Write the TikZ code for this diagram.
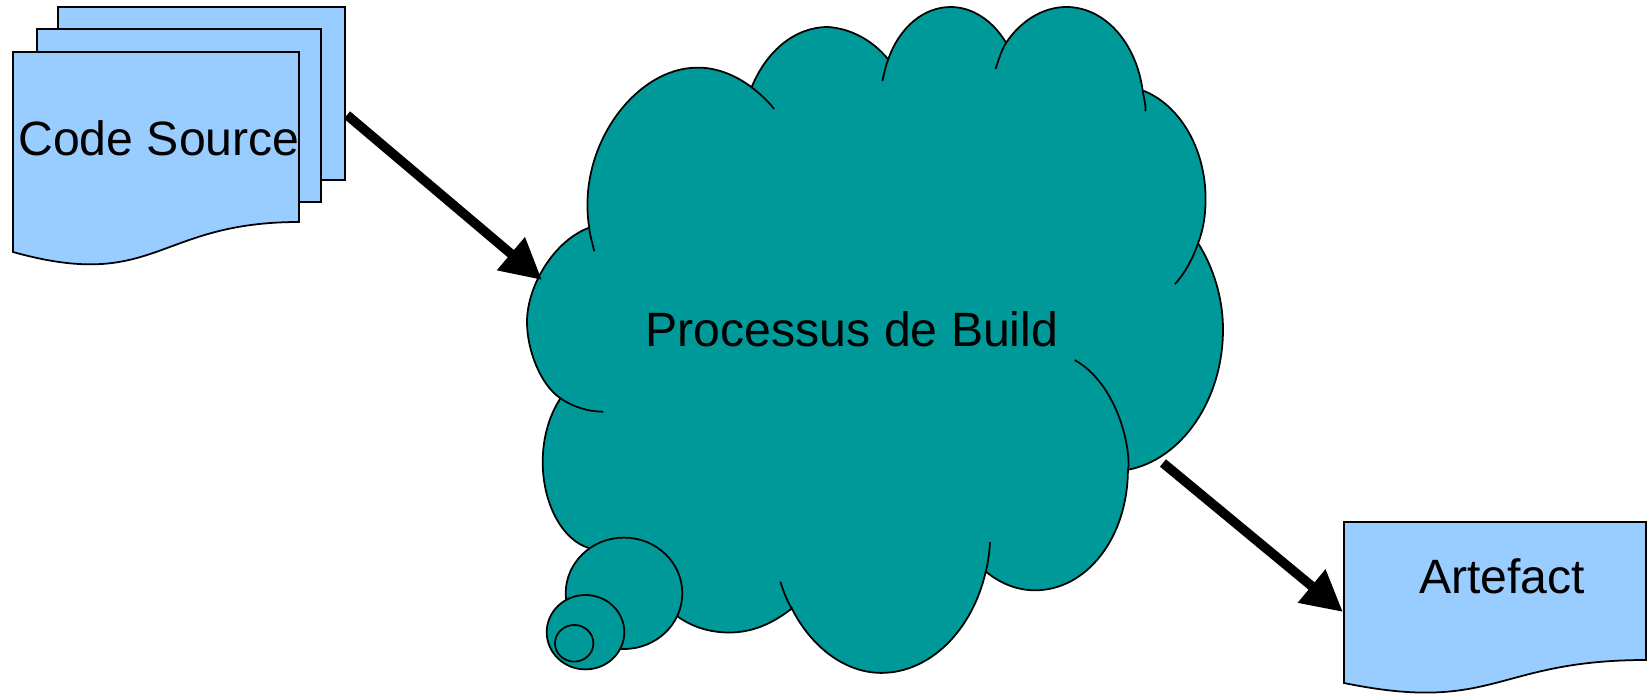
\documentclass[tikz,border=0pt]{standalone}
\usepackage{fontspec}
\setmainfont{Liberation Sans}
\usepackage{xcolor}
\definecolor{cloudteal}{RGB}{0,153,153}
\definecolor{pageblue}{RGB}{153,204,255}
\usetikzlibrary{arrows.meta}

\begin{document}
\begin{tikzpicture}[x=0.01cm,y=-0.01cm,
  page/.style={fill=pageblue,draw=black,line width=0.5pt},
  cloud/.style={fill=cloudteal,draw=black,line width=0.5pt},
  hook/.style={draw=black,line width=0.5pt},
  flow/.style={line width=2.7pt,-{Triangle[length=11.6pt,width=11.6pt]}},
  label/.style={anchor=base,inner sep=0pt,font=\fontsize{13.7pt}{16pt}\selectfont}]
  \useasboundingbox (0,0) rectangle (1650,694);

  % The stacked source pages:
  \draw[page] (58,7) rectangle (345,180);
  \draw[page] (37,29) rectangle (321,202);
  \draw[page] (13,52) -- (299,52) -- (299,222)
    .. controls (156,222) and (156,292) .. (13,252) -- cycle;
  \node[label] (source) at (159,155) {Code Source};

  % The artefact page:
  \draw[page] (1344,522) -- (1646,522) -- (1646,660)
    .. controls (1495,660) and (1495,714) .. (1344,683) -- cycle;
  \node[label] (artefact) at (1502,593) {Artefact};

  % The cloud outline:
  \draw[cloud] (589.2,227.7)
    .. controls (576.3,145.4) and (636.5,67.7) .. (696.8,67.7)
    .. controls (715.8,67.1) and (735.5,75.1) .. (751.6,87.2)
    .. controls (767.0,49.9) and (795.7,27.0) .. (827.9,27.0)
    .. controls (849.3,28.3) and (872.1,39.4) .. (888.2,59.4)
    .. controls (899.8,26.4) and (924.3,7) .. (950.7,7)
    .. controls (972.9,7) and (993.2,21.2) .. (1006.1,42.8)
    .. controls (1020.9,20.6) and (1043.2,7) .. (1066.4,7)
    .. controls (1104.1,7) and (1136.0,41.8) .. (1142.7,90.5)
    .. controls (1179.1,104.1) and (1205.6,148.2) .. (1205.6,198.8)
    .. controls (1205.6,214.2) and (1203.6,229.0) .. (1198.1,243.2)
    .. controls (1213.6,267.8) and (1223,298.3) .. (1223,329.5)
    .. controls (1223,400.1) and (1181.4,459.6) .. (1127.9,469.8)
    .. controls (1127.9,537.3) and (1086.7,590.3) .. (1035.1,590.3)
    .. controls (1017.4,590.3) and (1000.6,583.8) .. (985.8,571.5)
    .. controls (972.3,631.0) and (929.4,672.9) .. (881.4,672.9)
    .. controls (845.7,672.9) and (811.8,647.9) .. (791.8,608.5)
    .. controls (772.5,623.6) and (752.5,632.5) .. (729.3,632.5)
    .. controls (687.8,632.5) and (650.7,607.9) .. (632.7,544.1)
    .. controls (625,547) and (612,549.7) .. (600,549.7)
    .. controls (568.5,549.7) and (542.7,510.3) .. (542.7,461.7)
    .. controls (542.7,437.8) and (549.4,414.9) .. (560.5,398.3)
    .. controls (540.5,385) and (527,350) .. (527,322)
    .. controls (527,285) and (555,240) .. (589.2,227.7)
    -- cycle;
  % the small inner hooks:
  \draw[hook] (589.2,227.7) .. controls (589.8,235.4) and (592.7,244.1) .. (594.3,251.2);
  \draw[hook] (751.6,87.2) .. controls (759,93) and (768,101) .. (774.1,109.0);
  \draw[hook] (888.2,59.4) .. controls (885.6,65.9) and (884,73.6) .. (882.4,81);
  \draw[hook] (1006.1,42.8) .. controls (1001.3,50.2) and (998.7,60) .. (995.5,69);
  \draw[hook] (1142.7,90.5) .. controls (1143.4,96.1) and (1146.6,108.4) .. (1145.3,111.2);
  \draw[hook] (1198.1,243.2) .. controls (1192.6,258.9) and (1185.2,272.8) .. (1174.9,284.2);
  \draw[hook] (1128.2,469.8) .. controls (1130.8,444.8) and (1116,383.1) .. (1074.7,360);
  \draw[hook] (985.8,571.5) .. controls (988.4,561.3) and (989.4,552.1) .. (990,542.2);
  \draw[hook] (791.8,608.5) .. controls (786.7,600.5) and (783.5,591.2) .. (780.3,581.7);
  \draw[hook] (560.5,398.3) .. controls (572,406.5) and (588,411.7) .. (603.3,411.7);
  % the bubbles of the tail:
  \draw[cloud] (624,593.3) ellipse [x radius=58.3, y radius=55.7];
  \draw[cloud] (585.5,632.2) ellipse [x radius=38.8, y radius=37.2];
  \draw[cloud] (574.2,643.3) ellipse [x radius=19.2, y radius=18.3];
  \node[label] (build) at (852,346) {Processus de Build};

  % The arrows:
  \coordinate (source-out) at (347,115);
  \coordinate (build-in) at (542,280);
  \coordinate (build-out) at (1163,463);
  \coordinate (artefact-in) at (1343,612);
  \draw[flow] (source-out) -- (build-in);
  \draw[flow] (build-out) -- (artefact-in);
\end{tikzpicture}
\end{document}
